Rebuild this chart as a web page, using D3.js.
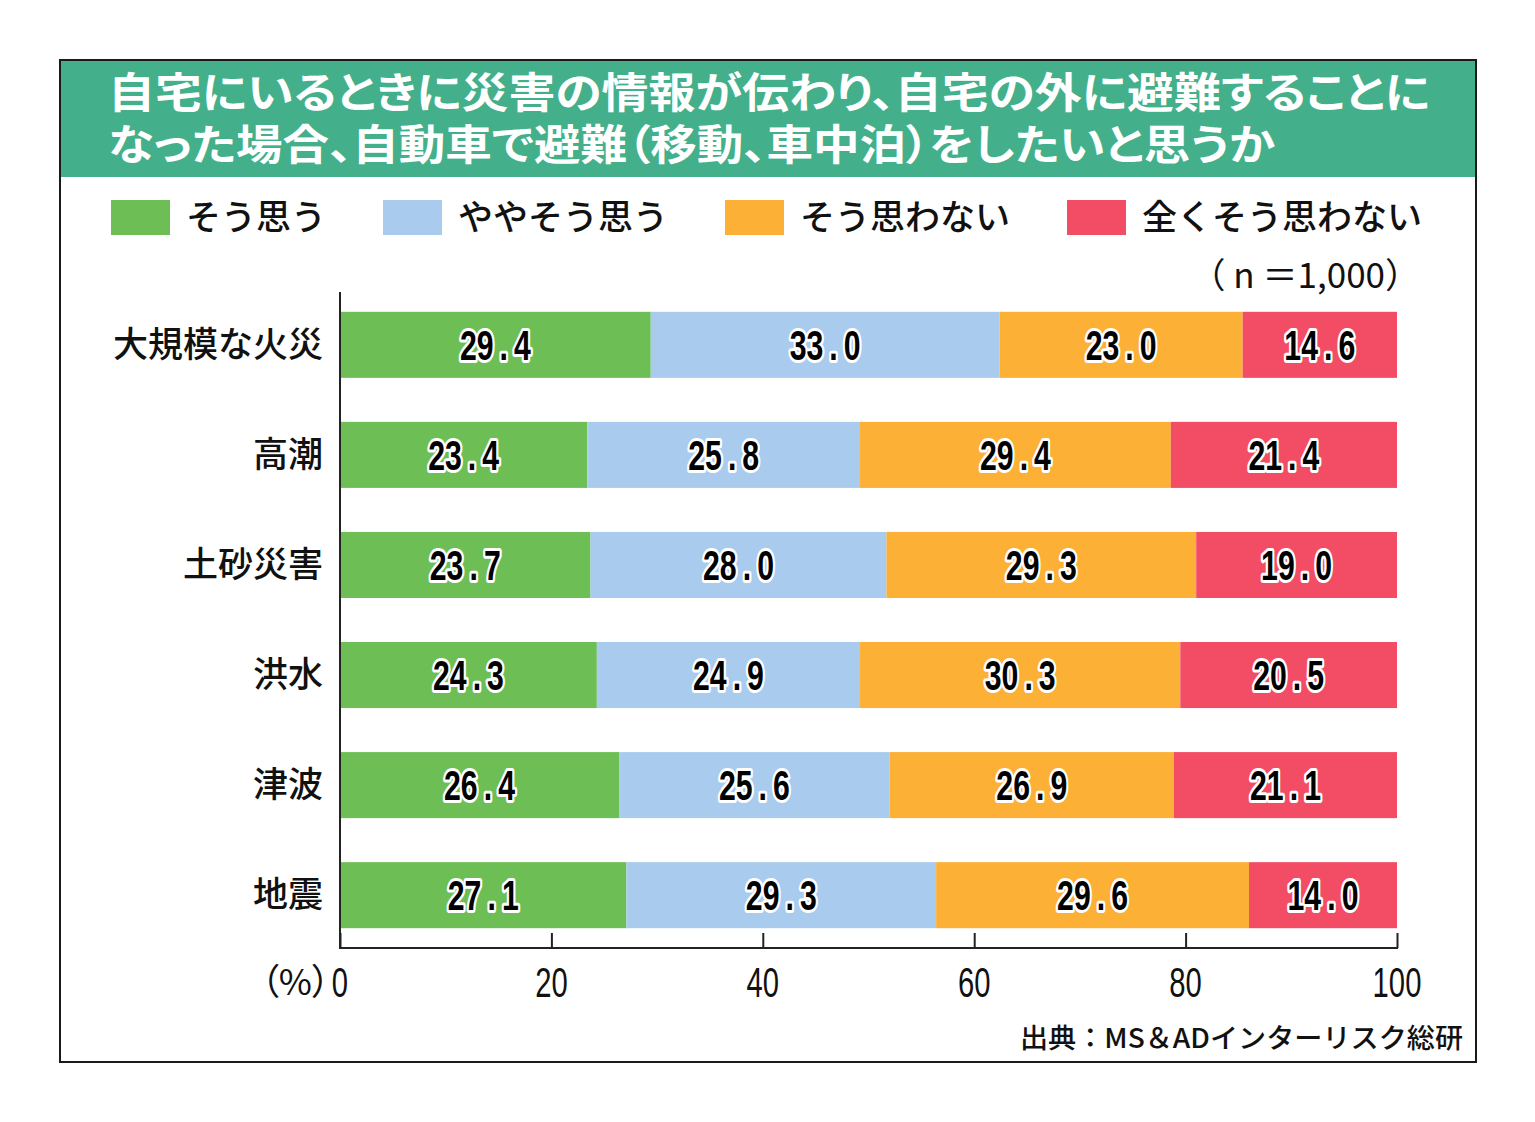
<!DOCTYPE html>
<html><head><meta charset="utf-8">
<script src="https://cdn.jsdelivr.net/npm/d3@7"></script>
<style>
html,body{margin:0;padding:0;background:#fff;}
svg{display:block;}
.palt{font-feature-settings:"palt" 1;}
</style>
</head><body>
<script>
const titleLines = ["自宅にいるときに災害の情報が伝わり、自宅の外に避難することに","なった場合、自動車で避難（移動、車中泊）をしたいと思うか"];
const categories = ["大規模な火災","高潮","土砂災害","洪水","津波","地震"];
const seriesNames = ["そう思う","ややそう思う","そう思わない","全くそう思わない"];
const seriesColors = ["#6dbe55","#a9cbee","#fcb036","#f34d66"];
const soOmou = [29.4,23.4,23.7,24.3,26.4,27.1];
const yayaSoOmou = [33.0,25.8,28.0,24.9,25.6,29.3];
const soOmowanai = [23.0,29.4,29.3,30.3,26.9,29.6];
const mattakuSoOmowanai = [14.6,21.4,19.0,20.5,21.1,14.0];
const tickValues = [0,20,40,60,80,100];
const sampleNote = "（ n ＝1,000）";
const unitLabel = "（%）";
const sourceNote = "出典：MS＆ADインターリスク総研";

const W=1535,H=1122;
const svg=d3.select("body").append("svg").attr("width",W).attr("height",H);
const jp="'Noto Sans CJK JP','Noto Sans',sans-serif";
const num="'Liberation Sans',Arial,sans-serif";

// frame
svg.append("rect").attr("x",60).attr("y",60).attr("width",1416).attr("height",1002)
  .attr("fill","#fff").attr("stroke","#1a1a1a").attr("stroke-width",2);
svg.append("rect").attr("x",61).attr("y",61).attr("width",1414).attr("height",116).attr("fill","#43b08b");
const title=svg.append("text").attr("class","palt")
  .attr("font-family",jp).attr("font-weight",700).attr("font-size",42).attr("fill","#fff");
titleLines.forEach((t,i)=>{
  title.append("tspan").attr("x",108).attr("y",108+i*52).text(t)
    .attr("textLength",i===0?1322:1167).attr("lengthAdjust","spacingAndGlyphs");
});

// legend
const legX=[111,383,725,1067];
seriesNames.forEach((s,i)=>{
  svg.append("rect").attr("x",legX[i]).attr("y",200).attr("width",59).attr("height",35).attr("fill",seriesColors[i]);
  svg.append("text").attr("x",legX[i]+75).attr("y",230).text(s)
    .attr("font-family",jp).attr("font-size",35).attr("font-weight",500).attr("fill","#111");
});
svg.append("text").attr("x",1420).attr("y",288).attr("text-anchor","end").text(sampleNote)
  .attr("font-family",jp).attr("font-size",35).attr("fill","#111");

// scales
const x=d3.scaleLinear().domain([0,100]).range([340,1397]);
const y=d3.scaleBand().domain(categories).range([292,948]).paddingInner(0.4).paddingOuter(0.18);

const seriesData=[soOmou,yayaSoOmou,soOmowanai,mattakuSoOmowanai];
const rows=categories.map((c,i)=>{const o={cat:c};seriesNames.forEach((s,j)=>o[s]=seriesData[j][i]);return o;});
const stack=d3.stack().keys(seriesNames)(rows);

const g=svg.append("g");
stack.forEach((layer,si)=>{
  g.selectAll(null).data(layer).enter().append("rect")
    .attr("x",d=>x(d[0])).attr("width",d=>x(d[1])-x(d[0]))
    .attr("y",d=>y(d.data.cat)).attr("height",y.bandwidth())
    .attr("fill",seriesColors[si]);
});
stack.forEach((layer,si)=>{
  g.selectAll(null).data(layer).enter().append("text")
    .attr("transform",d=>`translate(${(x(d[0])+x(d[1]))/2},${y(d.data.cat)+y.bandwidth()/2+15}) scale(0.72,1)`)
    .attr("text-anchor","middle").text(d=>(d[1]-d[0]).toFixed(1).replace("."," . ").replace(/ /g,"\u2009"))
    .attr("font-family",num).attr("font-weight",700).attr("font-size",42)
    .attr("fill","#000").attr("stroke","#fff").attr("stroke-width",6).attr("stroke-linejoin","round")
    .attr("paint-order","stroke");
});

// category labels
svg.selectAll(null).data(categories).enter().append("text")
  .attr("x",323).attr("y",d=>y(d)+y.bandwidth()/2+12).attr("text-anchor","end").text(d=>d)
  .attr("font-family",jp).attr("font-size",35).attr("font-weight",500).attr("fill","#111");

// axes
const axG=svg.append("g").attr("transform","translate(0,948)");
const xAxis=d3.axisTop(x).tickValues(tickValues).tickSize(15).tickFormat("");
axG.call(xAxis);
axG.select(".domain").remove();
axG.selectAll(".tick line").attr("stroke","#222").attr("stroke-width",2);
svg.append("line").attr("x1",339).attr("x2",1398).attr("y1",948).attr("y2",948).attr("stroke","#222").attr("stroke-width",2);
svg.append("line").attr("x1",340).attr("x2",340).attr("y1",292).attr("y2",949).attr("stroke","#222").attr("stroke-width",2);
svg.selectAll(null).data(tickValues).enter().append("text")
  .attr("transform",d=>`translate(${x(d)},997) scale(0.68,1)`).attr("text-anchor","middle").text(d=>d)
  .attr("font-family",num).attr("font-size",43).attr("fill","#111");
svg.append("text").attr("class","palt").attr("x",330).attr("y",995).attr("text-anchor","end").text(unitLabel)
  .attr("font-family",jp).attr("font-size",36).attr("fill","#111");
svg.append("text").attr("x",1020).attr("y",1048).text(sourceNote)
  .attr("font-family",jp).attr("font-size",27).attr("font-weight",500).attr("fill","#111")
  .attr("textLength",443).attr("lengthAdjust","spacingAndGlyphs");
</script>
</body></html>
